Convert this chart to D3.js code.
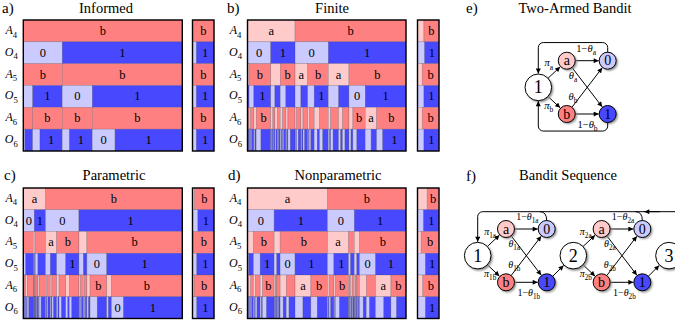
<!DOCTYPE html>
<html><head><meta charset="utf-8">
<script src="https://cdn.jsdelivr.net/npm/d3@7"></script>
<style>
body{margin:0;background:#fff}
svg{display:block}
</style>
</head><body>
<svg id="chart" width="675" height="326" font-family="'Liberation Serif', 'DejaVu Serif', serif"></svg>
<script>
// ---------- data ----------
const rowNames = [["A","4"],["O","4"],["A","5"],["O","5"],["A","6"],["O","6"]];
const colors = {a:"#ffcaca", b:"#ff8080", "0":"#cacaff", "1":"#4848ff"};

// each row: string of values + cumulative probability ends
const informedVals = ["b","01","bb","0101","bbbb","01010101"];
const informedEnds = [
  [1],
  [0.245,1],
  [0.245,1],
  [0.059,0.245,0.434,1],
  [0.059,0.245,0.434,1],
  [0.01,0.059,0.105,0.245,0.29,0.434,0.577,1]
];
const informedSide = [0,0.18,0,0.18,0,0.18];

const finiteVals = ["ab","0101","abababab","0101010101010101",
  "abb"+"abababababababababababababab",
  "01010101010101010101010101010101010101010101010101010101010101"];
const finiteEnds = [
  [0.30,1],
  [0.147,0.30,0.51,1],
  [0.01,0.147,0.207,0.30,0.38,0.51,0.64,1],
  [0.004,0.01,0.04,0.147,0.173,0.207,0.242,0.30,0.337,0.38,0.421,0.51,0.575,0.64,0.743,1],
  [0.002,0.004,0.01,0.02,0.04,0.055,0.147,0.16,0.173,0.19,0.207,0.222,0.242,0.255,0.30,0.31,0.337,0.35,0.38,0.39,0.421,0.455,0.51,0.525,0.575,0.60,0.64,0.665,0.743,0.815,1],
  [0.001,0.002,0.003,0.004,0.006,0.01,0.014,0.02,0.026,0.04,0.047,0.055,0.085,0.147,0.153,0.16,0.165,0.173,0.18,0.19,0.196,0.207,0.214,0.222,0.229,0.242,0.248,0.255,0.27,0.30,0.305,0.31,0.32,0.337,0.343,0.35,0.36,0.38,0.385,0.39,0.40,0.421,0.44,0.455,0.475,0.51,0.518,0.525,0.54,0.575,0.588,0.60,0.615,0.64,0.653,0.665,0.69,0.743,0.78,0.815,0.853,1]
];
const finiteSide = [0.30,0.33,0.22,0.30,0.22,0.30];

const parametricVals = ["ab","0101","baababab","0101010101010101",
  "ababbbbb"+"abababababababababab",
  "01010101010101010101010101010101010101010101010101010101"];
const parametricEnds = [
  [0.14,1],
  [0.069,0.14,0.35,1],
  [0.063,0.069,0.076,0.14,0.21,0.35,0.40,1],
  [0.015,0.063,0.066,0.069,0.072,0.076,0.092,0.14,0.17,0.21,0.267,0.35,0.378,0.40,0.525,1],
  [0.005,0.015,0.025,0.063,0.066,0.069,0.072,0.076,0.08,0.092,0.10,0.14,0.148,0.17,0.18,0.21,0.225,0.267,0.29,0.35,0.36,0.378,0.385,0.40,0.42,0.525,0.555,1],
  [0.002,0.005,0.008,0.015,0.02,0.025,0.035,0.063,0.064,0.066,0.067,0.069,0.07,0.072,0.073,0.076,0.078,0.08,0.084,0.092,0.096,0.10,0.112,0.14,0.144,0.148,0.155,0.17,0.175,0.18,0.19,0.21,0.218,0.225,0.24,0.267,0.28,0.29,0.305,0.35,0.355,0.36,0.366,0.378,0.382,0.385,0.39,0.40,0.41,0.42,0.465,0.525,0.535,0.555,0.63,1]
];
const parametricSide = [0.10,0.25,0.05,0.20,0.08,0.20];

const nonparamVals = ["ab","0101","abababab","0101010101010101",
  "b"+"ababababababababababababababab",
  "01010101010101010101010101010101010101010101010101010101010101"];
const nonparamEnds = [
  [0.505,1],
  [0.168,0.505,0.674,1],
  [0.038,0.168,0.206,0.505,0.638,0.674,0.707,1],
  [0.008,0.038,0.08,0.168,0.185,0.206,0.30,0.505,0.545,0.638,0.65,0.674,0.69,0.707,0.808,1],
  [0.008,0.02,0.038,0.05,0.08,0.095,0.168,0.175,0.185,0.19,0.206,0.245,0.30,0.40,0.505,0.515,0.545,0.555,0.638,0.642,0.65,0.66,0.674,0.68,0.69,0.695,0.707,0.75,0.808,0.905,1],
  [0.003,0.008,0.014,0.02,0.026,0.038,0.044,0.05,0.06,0.08,0.088,0.095,0.12,0.168,0.171,0.175,0.178,0.185,0.187,0.19,0.196,0.206,0.225,0.245,0.262,0.30,0.35,0.40,0.44,0.505,0.51,0.515,0.525,0.545,0.55,0.555,0.58,0.638,0.64,0.642,0.645,0.65,0.655,0.66,0.665,0.674,0.677,0.68,0.684,0.69,0.692,0.695,0.699,0.707,0.73,0.75,0.77,0.808,0.86,0.905,0.94,1]
];
const nonparamSide = [0.45,0.28,0.17,0.37,0.25,0.37];

// diagram data
const banditNodes = [
  {id:"s", label:"1", kind:"s", col:0, row:0.5},
  {id:"a", label:"a", kind:"a", col:0.41, row:0},
  {id:"b", label:"b", kind:"b", col:0.41, row:1},
  {id:"o0", label:"0", kind:"0", col:1, row:0},
  {id:"o1", label:"1", kind:"1", col:1, row:1}
];
const banditEdges = [["s","a"],["s","b"],["a","o0"],["a","o1"],["b","o0"],["b","o1"]];
const banditLabels = [
  {main:"π", pre:"", sub:"a", col:0.15, row:0.05},
  {main:"π", pre:"", sub:"b", col:0.15, row:0.85},
  {main:"θ", pre:"1−", sub:"a", col:0.69, row:-0.22},
  {main:"θ", pre:"", sub:"a", col:0.5, row:0.29},
  {main:"θ", pre:"", sub:"b", col:0.5, row:0.675},
  {main:"θ", pre:"1−", sub:"b", col:0.71, row:1.2}
];
const seqStages = [1, 2];
const stageStep = 1.386;

// ---------- drawing ----------
const svg = d3.select("#chart");
const defs = svg.append("defs");
defs.append("marker").attr("id","arr").attr("viewBox","0 -5 10 10")
  .attr("refX",10).attr("refY",0).attr("markerUnits","userSpaceOnUse")
  .attr("markerWidth",6).attr("markerHeight",5).attr("orient","auto")
  .append("path").attr("d","M0,-5L10,0L0,5Z").attr("fill","#000");
const flt = defs.append("filter").attr("id","sh").attr("x","-50%").attr("y","-50%").attr("width","200%").attr("height","200%");
flt.append("feGaussianBlur").attr("stdDeviation",0.9);

const SERIF = "'Liberation Serif', 'DejaVu Serif', serif";
function subText(g, x, y, pre, main, sub, size, anchor, italicMain) {
  const t = g.append("text").attr("x",x).attr("y",y).attr("font-family",SERIF)
    .attr("text-anchor",anchor||"middle").style("font-size",size+"px");
  if (pre) t.append("tspan").text(pre);
  t.append("tspan").text(main).style("font-style", italicMain===false ? "normal" : "italic");
  t.append("tspan").attr("dy", size*0.3).style("font-size",(size*0.72)+"px").text(sub);
  return t;
}
function txt(g, x, y, s, size, anchor) {
  return g.append("text").attr("x",x).attr("y",y).attr("font-family",SERIF)
    .attr("text-anchor",anchor||"start").style("font-size",size+"px").text(s);
}

const panelsCfg = [
  {letter:"a)", title:"Informed", vals:informedVals, ends:informedEnds, side:informedSide,
   x0:23.3, x1:182.3, s0:192.5, s1:214, y0:20, y1:151, tx:106, ty:13, lx:2, ly:13},
  {letter:"b)", title:"Finite", vals:finiteVals, ends:finiteEnds, side:finiteSide,
   x0:247.5, x1:406, s0:417.5, s1:439, y0:20, y1:151, tx:332, ty:13, lx:227, ly:13},
  {letter:"c)", title:"Parametric", vals:parametricVals, ends:parametricEnds, side:parametricSide,
   x0:23.3, x1:182.3, s0:192.5, s1:214, y0:188, y1:318.5, tx:114, ty:180, lx:4, ly:180},
  {letter:"d)", title:"Nonparametric", vals:nonparamVals, ends:nonparamEnds, side:nonparamSide,
   x0:247.5, x1:406, s0:417.5, s1:439, y0:188, y1:318.5, tx:338, ty:180, lx:228, ly:180}
];

const labelMinPx = 10.8;
panelsCfg.forEach(cfg => {
  const g = svg.append("g");
  const x = d3.scaleLinear().domain([0,1]).range([cfg.x0,cfg.x1]);
  const xs = d3.scaleLinear().domain([0,1]).range([cfg.s0,cfg.s1]);
  const y = d3.scaleBand().domain(d3.range(rowNames.length)).range([cfg.y0,cfg.y1]);

  txt(g, cfg.lx, cfg.ly, cfg.letter, 15);
  txt(g, cfg.tx, cfg.ty, cfg.title, 14.5, "middle");

  rowNames.forEach((rn,i) => {
    const vals = cfg.vals[i], ends = cfg.ends[i];
    const segs = ends.map((e,j) => ({v:vals[j], s: j ? ends[j-1] : 0, e:e}));
    const rg = g.append("g");
    rg.selectAll("rect").data(segs).join("rect")
      .attr("x", d => x(d.s)).attr("y", y(i))
      .attr("width", d => x(d.e) - x(d.s)).attr("height", y.bandwidth())
      .attr("fill", d => colors[d.v])
      .attr("stroke","rgba(70,70,90,0.45)").attr("stroke-width",0.5);
    rg.selectAll("text").data(segs.filter(d => x(d.e)-x(d.s) >= labelMinPx)).join("text")
      .attr("x", d => (x(d.s)+x(d.e))/2).attr("y", y(i)+y.bandwidth()/2+4)
      .attr("font-family",SERIF)
      .attr("text-anchor","middle").style("font-size","12.5px").text(d => d.v);

    // side box
    const first = vals[0] === "a" || vals[0] === "b" ? "a" : "0";
    const second = first === "a" ? "b" : "1";
    const sp = cfg.side[i];
    const sideSegs = [{v:first, s:0, e:sp},{v:second, s:sp, e:1}].filter(d => d.e > d.s);
    rg.selectAll("rect.side").data(sideSegs).join("rect").attr("class","side")
      .attr("x", d => xs(d.s)).attr("y", y(i))
      .attr("width", d => xs(d.e)-xs(d.s)).attr("height", y.bandwidth())
      .attr("fill", d => colors[d.v])
      .attr("stroke","rgba(70,70,90,0.45)").attr("stroke-width",0.5);
    txt(rg, xs(sp + (1-sp)/2), y(i)+y.bandwidth()/2+4, second, 12.5, "middle");

    // row label
    subText(g, cfg.x0-12, y(i)+y.bandwidth()/2+3, "", rn[0], rn[1], 12, "middle", true);
  });
  g.append("rect").attr("x",cfg.x0).attr("y",cfg.y0).attr("width",cfg.x1-cfg.x0).attr("height",cfg.y1-cfg.y0)
    .attr("fill","none").attr("stroke","#000").attr("stroke-width",1.4);
  g.append("rect").attr("x",cfg.s0).attr("y",cfg.y0).attr("width",cfg.s1-cfg.s0).attr("height",cfg.y1-cfg.y0)
    .attr("fill","none").attr("stroke","#000").attr("stroke-width",1.4);
});

// ---------- diagrams ----------
const nodeFill = {s:"#fff", a:"#ffcaca", b:"#ff8080", "0":"#cacaff", "1":"#4848ff"};
function radius(kind){ return kind === "s" ? 13.3 : 8.5; }

function drawGraph(g, nodes, edges, labels, xs, ys, labSize, subPrefix) {
  const byId = {};
  nodes.forEach(n => { byId[n.id] = {...n, x: xs(n.col), y: ys(n.row)}; });
  const eg = g.append("g");
  edges.forEach(([s,t]) => {
    const a = byId[s], b = byId[t];
    const dx = b.x-a.x, dy = b.y-a.y, L = Math.hypot(dx,dy);
    const ra = radius(a.kind), rb = radius(b.kind)+0.5;
    eg.append("line")
      .attr("x1", a.x+dx/L*ra).attr("y1", a.y+dy/L*ra)
      .attr("x2", b.x-dx/L*rb).attr("y2", b.y-dy/L*rb)
      .attr("stroke","#000").attr("stroke-width",1).attr("marker-end","url(#arr)");
  });
  const ng = g.append("g");
  Object.values(byId).forEach(n => {
    const r = radius(n.kind);
    ng.append("circle").attr("cx",n.x+1.6).attr("cy",n.y+1.6).attr("r",r)
      .attr("fill","#8a8a8a").attr("filter","url(#sh)");
    ng.append("circle").attr("cx",n.x).attr("cy",n.y).attr("r",r)
      .attr("fill",nodeFill[n.kind]).attr("stroke","#000").attr("stroke-width",1);
    txt(ng, n.x, n.y + (n.kind==="s"?6:4.5), n.label, n.kind==="s"?18:14, "middle");
  });
  labels.forEach(l => {
    subText(g, xs(l.col), ys(l.row)+3, l.pre, l.main, subPrefix + l.sub, labSize, "middle", true);
  });
  return byId;
}

// e) Two-Armed Bandit
const ge = svg.append("g");
txt(ge, 466, 13, "e)", 15);
txt(ge, 575, 13, "Two-Armed Bandit", 14.5, "middle");
const exs = d3.scaleLinear().domain([0,1]).range([538.3,607.7]);
const eys = d3.scaleLinear().domain([0,1]).range([60.7,114]);
const eN = drawGraph(ge, banditNodes, banditEdges, banditLabels, exs, eys, 10.5, "");
function loopPath(pts, r) {
  const p = d3.path();
  p.moveTo(pts[0][0], pts[0][1]);
  for (let i=1;i<pts.length-1;i++) p.arcTo(pts[i][0],pts[i][1],pts[i+1][0],pts[i+1][1],r);
  p.lineTo(pts[pts.length-1][0], pts[pts.length-1][1]);
  return p.toString();
}
ge.append("path").attr("fill","none").attr("stroke","#000").attr("stroke-width",1).attr("marker-end","url(#arr)")
  .attr("d", loopPath([[eN.o0.x, eN.o0.y-8.5],[eN.o0.x, eys(-0.34)],[eN.s.x, eys(-0.34)],[eN.s.x, eN.s.y-13.8]],5));
ge.append("path").attr("fill","none").attr("stroke","#000").attr("stroke-width",1).attr("marker-end","url(#arr)")
  .attr("d", loopPath([[eN.o1.x, eN.o1.y+8.5],[eN.o1.x, eys(1.32)],[eN.s.x, eys(1.32)],[eN.s.x, eN.s.y+13.8]],5));

// f) Bandit Sequence
const gf = svg.append("g");
txt(gf, 466, 181, "f)", 15);
txt(gf, 568, 180, "Bandit Sequence", 14.5, "middle");
const fxs = d3.scaleLinear().domain([0,1]).range([477.7,546.7]);
const fys = d3.scaleLinear().domain([0,1]).range([229,282.3]);
const stageNodes = [];
seqStages.forEach((st,k) => {
  const off = k*stageStep;
  const nodes = banditNodes.map(n => ({...n, id:n.id+st, col:n.col+off, label: n.kind==="s" ? String(st) : n.label}));
  const edges = banditEdges.map(([s,t]) => [s+st, t+st]);
  const labels = banditLabels.map(l => ({...l, col:l.col+off+0.03}));
  stageNodes.push(drawGraph(gf, nodes, edges, labels, fxs, fys, 10, String(st)));
});
// stage 3 start node (partially visible)
const s3 = {x: fxs(2*stageStep), y: fys(0.5)};
[0,1].forEach(k => {
  const from = stageNodes[k]["o1"+(k+1)];
  const to = k===0 ? stageNodes[1]["s2"] : s3;
  const dx = to.x-from.x, dy = to.y-from.y, L = Math.hypot(dx,dy);
  gf.append("line").attr("x1",from.x+dx/L*8.5).attr("y1",from.y+dy/L*8.5)
    .attr("x2",to.x-dx/L*13.8).attr("y2",to.y-dy/L*13.8)
    .attr("stroke","#000").attr("stroke-width",1).attr("marker-end","url(#arr)");
});
gf.append("circle").attr("cx",s3.x+1.6).attr("cy",s3.y+1.6).attr("r",13.3).attr("fill","#8a8a8a").attr("filter","url(#sh)");
gf.append("circle").attr("cx",s3.x).attr("cy",s3.y).attr("r",13.3).attr("fill","#fff").attr("stroke","#000");
txt(gf, s3.x, s3.y+6, "3", 18, "middle");
// feedback line
const topY = fys(-0.325);
const s1n = stageNodes[0]["s1"];
gf.append("path").attr("fill","none").attr("stroke","#000").attr("stroke-width",1).attr("marker-end","url(#arr)")
  .attr("d", loopPath([[680, topY],[s1n.x, topY],[s1n.x, s1n.y-13.8]],5));
stageNodes.forEach((sn,k) => {
  const o = sn["o0"+(k+1)];
  gf.append("path").attr("fill","none").attr("stroke","#000").attr("stroke-width",1)
    .attr("d", `M${o.x},${o.y-8.5} Q${o.x},${topY} ${o.x-7},${topY}`);
});
gf.append("path").attr("fill","none").attr("stroke","#000").attr("stroke-width",1).attr("marker-end","url(#arr)")
  .attr("d", `M660,${topY} L${stageNodes[1]["o02"].x+2},${topY}`);
</script>
</body></html>
